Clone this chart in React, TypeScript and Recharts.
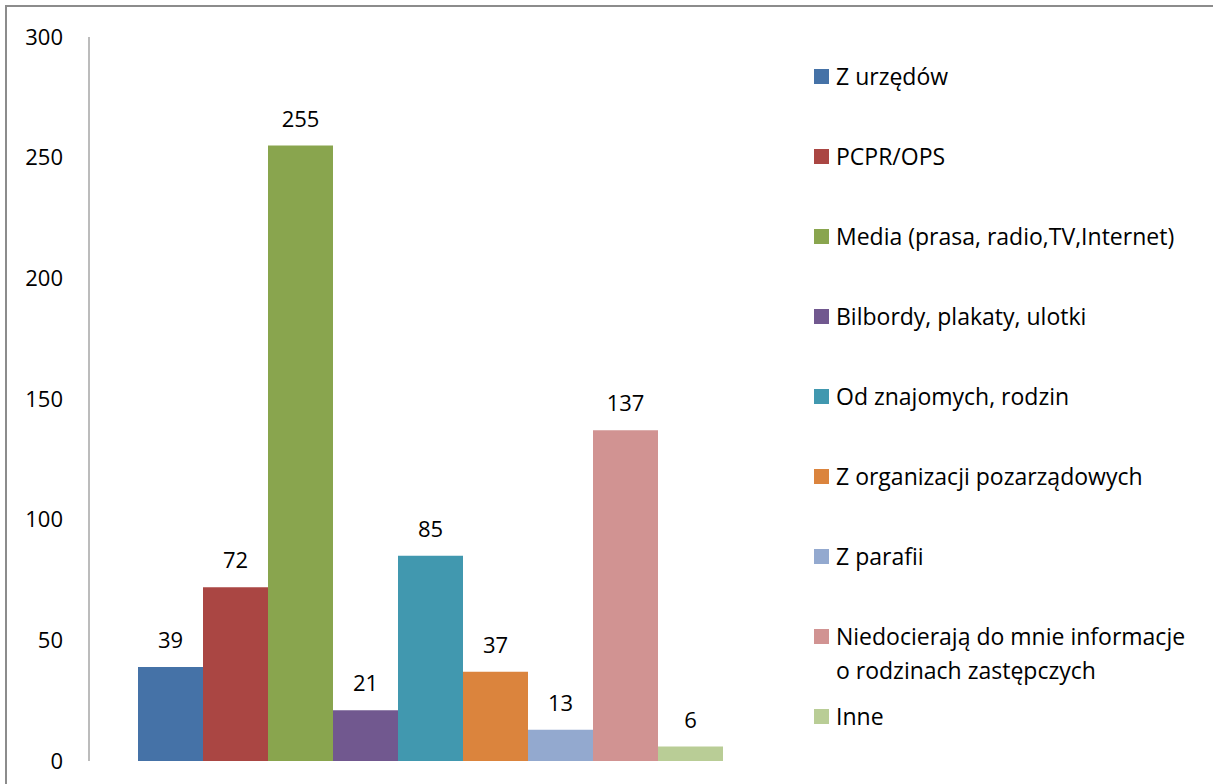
import { BarChart, Bar, XAxis, YAxis, Legend, LabelList } from "recharts";

// source names (legend), counts and colours, one bar per source
const sources = [
  "Z urzędów",
  "PCPR/OPS",
  "Media (prasa, radio,TV,Internet)",
  "Bilbordy, plakaty, ulotki",
  "Od znajomych, rodzin",
  "Z organizacji pozarządowych",
  "Z parafii",
  "Niedocierają do mnie informacje\no rodzinach zastępczych",
  "Inne",
];
const counts = [39, 72, 255, 21, 85, 37, 13, 137, 6];
const colors = [
  "#4572A7",
  "#AA4643",
  "#89A54E",
  "#71588F",
  "#4198AF",
  "#DB843D",
  "#93A9CF",
  "#D19392",
  "#B9CD96",
];
const yTicks = [0, 50, 100, 150, 200, 250, 300];

const row: Record<string, number | string> = { name: "" };
counts.forEach((v, i) => {
  row["s" + i] = v;
});
const data = [row];

const FONT = "'Open Sans', sans-serif";

function LegendBox(props: any) {
  // keep series order instead of recharts' alphabetical sort
  const items = [...(props.payload || [])].sort(
    (a: any, b: any) =>
      Number(String(a.dataKey).slice(1)) - Number(String(b.dataKey).slice(1))
  );
  return (
    <div style={{ width: 400, fontFamily: FONT, fontSize: 23, color: "#000" }}>
      {items.map((it: any, i: number) => (
        <div key={i} style={{ height: 80, position: "relative" }}>
          <span
            style={{
              position: "absolute",
              left: 1,
              top: 10,
              width: 15,
              height: 15,
              background: it.color,
            }}
          />
          <div
            style={{
              position: "absolute",
              left: 23,
              top: 0,
              lineHeight: "34px",
              whiteSpace: "pre",
            }}
          >
            {it.value}
          </div>
        </div>
      ))}
    </div>
  );
}

export default function App() {
  return (
    <div
      style={{
        position: "absolute",
        left: 0,
        top: 0,
        width: 1213,
        height: 784,
        overflow: "hidden",
        background: "#fff",
      }}
    >
      <div
        style={{
          position: "absolute",
          left: 5,
          top: 5,
          width: 1300,
          height: 900,
          border: "2px solid #8c8c8c",
        }}
      />
      <BarChart
        width={1213}
        height={784}
        data={data}
        margin={{ top: 37, right: 41, bottom: 23, left: 0 }}
        barCategoryGap={49}
        barGap={0}
      >
        <XAxis dataKey="name" hide />
        <YAxis
          width={89}
          domain={[0, 300]}
          ticks={yTicks}
          tickLine={false}
          tickSize={0}
          tickMargin={26}
          axisLine={{ stroke: "#a6a6a6", strokeWidth: 1.5 }}
          tick={{ fill: "#000", fontSize: 22, fontFamily: FONT }}
        />
        <Legend
          layout="vertical"
          align="right"
          verticalAlign="top"
          wrapperStyle={{ top: 59, right: 0, width: 400 }}
          content={<LegendBox />}
        />
        {sources.map((s, i) => (
          <Bar
            key={i}
            dataKey={"s" + i}
            name={s}
            fill={colors[i]}
            isAnimationActive={false}
          >
            <LabelList
              dataKey={"s" + i}
              position="top"
              offset={19}
              style={{ fill: "#000", fontSize: 22, fontFamily: FONT }}
            />
          </Bar>
        ))}
      </BarChart>
    </div>
  );
}
